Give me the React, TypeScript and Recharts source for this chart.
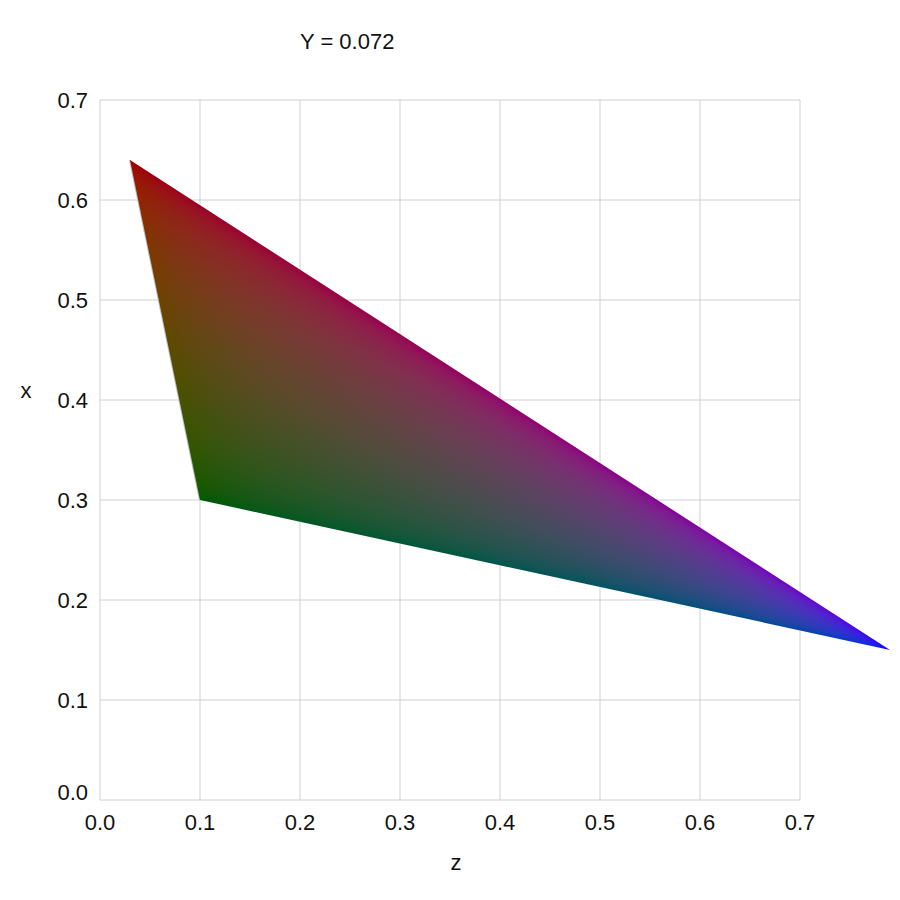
import { CartesianGrid, Scatter, ScatterChart, XAxis, YAxis } from "recharts";

// sRGB primaries in chromaticity space (x, z), drawn at a fixed luminance Y
const primaryNames = ["R", "G", "B"];
const primaryZ = [0.03, 0.1, 0.79];
const primaryX = [0.64, 0.3, 0.15];
const lumaWeights = [0.2126, 0.7152, 0.0722];
const luminanceY = 0.072;
const axisTicks = [0, 0.1, 0.2, 0.3, 0.4, 0.5, 0.6, 0.7];

const vertices = primaryNames.map((name, i) => ({
  name,
  z: primaryZ[i],
  x: primaryX[i],
  y: 1 - primaryX[i] - primaryZ[i],
}));

const FONT = "'Liberation Sans', Arial, sans-serif";
const FS = 22;
const INK = "#111";

function encode(v: number) {
  const c = Math.max(0, Math.min(1, v));
  const s = c <= 0.0031308 ? 12.92 * c : 1.055 * Math.pow(c, 1 / 2.4) - 0.055;
  return Math.round(255 * s);
}

// paints the colour of every pixel inside the triangle (projective mix of primaries at fixed Y)
function paintTriangle(pts: { x: number; y: number }[]) {
  const xs = pts.map((p) => p.x);
  const ys = pts.map((p) => p.y);
  const x0 = Math.floor(Math.min(...xs)) - 2;
  const y0 = Math.floor(Math.min(...ys)) - 2;
  const w = Math.ceil(Math.max(...xs)) + 2 - x0;
  const h = Math.ceil(Math.max(...ys)) + 2 - y0;
  const canvas = document.createElement("canvas");
  canvas.width = w;
  canvas.height = h;
  const ctx = canvas.getContext("2d");
  if (!ctx) return null;
  const img = ctx.createImageData(w, h);
  const [a, b, c] = pts;
  const det = (b.y - c.y) * (a.x - c.x) + (c.x - b.x) * (a.y - c.y);
  for (let py = 0; py < h; py++) {
    for (let px = 0; px < w; px++) {
      const X = x0 + px + 0.5;
      const Y = y0 + py + 0.5;
      let l0 = ((b.y - c.y) * (X - c.x) + (c.x - b.x) * (Y - c.y)) / det;
      let l1 = ((c.y - a.y) * (X - c.x) + (a.x - c.x) * (Y - c.y)) / det;
      let l2 = 1 - l0 - l1;
      l0 = Math.max(0, l0);
      l1 = Math.max(0, l1);
      l2 = Math.max(0, l2);
      const sum = l0 + l1 + l2;
      const bw = [l0 / sum, l1 / sum, l2 / sum];
      let denom = 0;
      for (let i = 0; i < 3; i++) denom += bw[i] * vertices[i].y;
      const k = (py * w + px) * 4;
      for (let i = 0; i < 3; i++) {
        const lin = (luminanceY * bw[i] * vertices[i].y) / (lumaWeights[i] * denom);
        img.data[k + i] = encode(lin);
      }
      img.data[k + 3] = 255;
    }
  }
  ctx.putImageData(img, 0, 0);
  return { href: canvas.toDataURL(), x0, y0, w, h };
}

function ChromaTriangle({ points }: { points: { x: number; y: number }[] }) {
  if (!points || points.length < 3) return null;
  const img = paintTriangle(points);
  if (!img) return null;
  const poly = points.map((p) => `${p.x},${p.y}`).join(" ");
  return (
    <g>
      <defs>
        <clipPath id="chroma-clip">
          <polygon points={poly} />
        </clipPath>
      </defs>
      <line
        x1={points[0].x}
        y1={points[0].y}
        x2={points[1].x}
        y2={points[1].y}
        stroke="#bdbdbd"
        strokeWidth={2}
      />
      <image
        href={img.href}
        x={img.x0}
        y={img.y0}
        width={img.w}
        height={img.h}
        preserveAspectRatio="none"
        clipPath="url(#chroma-clip)"
      />
    </g>
  );
}

function YTick({ x, y, payload }: any) {
  const lift = payload.value === 0 ? -8 : 0;
  return (
    <text x={x} y={y + lift} dy="0.355em" textAnchor="end" fontSize={FS} fontFamily={FONT} fill={INK}>
      {payload.value.toFixed(1)}
    </text>
  );
}

export default function App() {
  return (
    <div style={{ position: "absolute", left: 0, top: 0, width: 900, height: 900, background: "#fff" }}>
      <style>{`.recharts-scatter { clip-path: none !important; }`}</style>
      <div
        style={{
          position: "absolute",
          left: 300,
          top: 29,
          fontFamily: FONT,
          fontSize: FS,
          color: INK,
          whiteSpace: "nowrap",
        }}
      >
        Y = {luminanceY}
      </div>
      <ScatterChart width={900} height={900} margin={{ top: 100, right: 100, bottom: 0, left: 0 }}>
        <CartesianGrid stroke="#d0d0d0" strokeWidth={1} />
        <XAxis
          type="number"
          dataKey="z"
          domain={[0, 0.7]}
          ticks={axisTicks}
          allowDataOverflow
          height={100}
          axisLine={false}
          tickLine={false}
          tickSize={0}
          tickMargin={14}
          tickFormatter={(v: number) => v.toFixed(1)}
          tick={{ fontSize: FS, fontFamily: FONT, fill: INK }}
          label={{
            content: ({ viewBox }: any) => (
              <text
                x={viewBox.x + viewBox.width / 2 + 6}
                y={viewBox.y + 70}
                textAnchor="middle"
                fontSize={FS}
                fontFamily={FONT}
                fill={INK}
              >
                z
              </text>
            ),
          }}
        />
        <YAxis
          type="number"
          dataKey="x"
          domain={[0, 0.7]}
          ticks={axisTicks}
          allowDataOverflow
          width={100}
          axisLine={false}
          tickLine={false}
          tickSize={0}
          tickMargin={12}
          tick={<YTick />}
          label={{
            content: ({ viewBox }: any) => (
              <text
                x={viewBox.x + 26}
                y={viewBox.y + viewBox.height / 2 - 52}
                textAnchor="middle"
                fontSize={FS}
                fontFamily={FONT}
                fill={INK}
              >
                x
              </text>
            ),
          }}
        />
        <Scatter
          data={vertices}
          isAnimationActive={false}
          shape={() => <g />}
          lineType="joint"
          line={(p: any) => <ChromaTriangle points={p.points} />}
        />
      </ScatterChart>
    </div>
  );
}
